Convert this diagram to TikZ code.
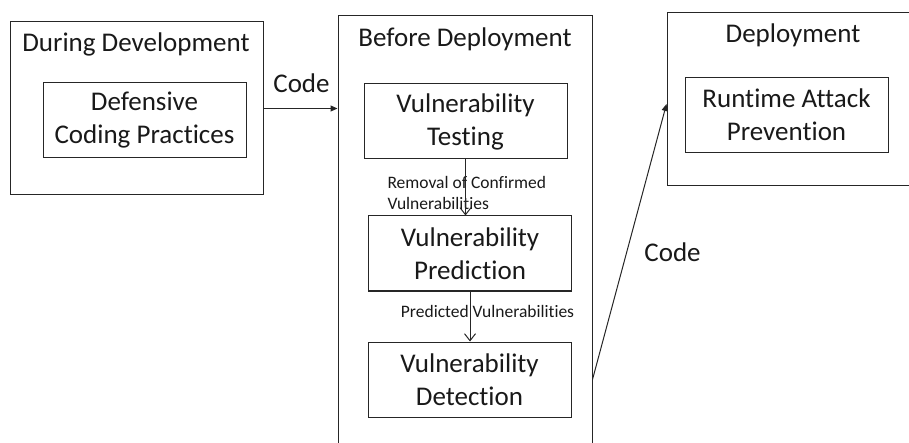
\documentclass[tikz,border=0pt]{standalone}
\usepackage{fontspec}
\setmainfont{Carlito}[Ligatures=NoCommon]
\usetikzlibrary{arrows.meta}
\begin{document}
\begin{tikzpicture}[x=1pt,y=-1pt,
  frame/.style={draw=black!85, line width=1pt, inner sep=0pt},
  big/.style={font=\fontsize{27}{33}\selectfont, text=black!90},
  small/.style={font=\fontsize{17.5}{21.3}\selectfont, text=black!90},
  stage/.style={frame, big, align=center, minimum width=203pt, minimum height=75pt},
  conn/.style={draw=black!85, line width=1pt},
  solid tip/.style={-{Triangle[length=7pt,width=6pt]}},
  open tip/.style={-{Straight Barb[length=7pt,width=11pt]}}]
\clip (0,0) rectangle (909,443);

% During development
\node[frame, minimum width=253pt, minimum height=173pt] (dev) at (136.5,108.5) {};
\node[big, anchor=base] (devt) at (136,52) {During Development};
\node[stage] (def) at (144.5,120.5) {Defensive\\Coding Practices};

% Before deployment
\node[frame, minimum width=254pt, minimum height=454pt] (mid) at (465,243) {};
\node[big, anchor=base] (midt) at (465,47) {Before Deployment};
\node[stage] (test) at (465.5,121.5) {Vulnerability\\Testing};
\node[stage] (pred) at (470,253.5) {Vulnerability\\Prediction};
\node[stage] (det) at (469.5,379.5) {Vulnerability\\Detection};

% Deployment
\node[frame, minimum width=250pt, minimum height=173pt] (dep) at (792,99.5) {};
\node[big, anchor=base] (dept) at (793,43) {Deployment};
\node[stage] (rt) at (786.5,115) {Runtime Attack\\Prevention};

% Labels
\node[big, anchor=base] (c1) at (301.5,93) {Code};
\node[big, anchor=base] (c2) at (672.5,262) {Code};
\node[small, anchor=base west, align=left] (rem) at (384,210) {Removal of Confirmed\\Vulnerabilities};
\node[small, anchor=base] (pv) at (487.5,317) {Predicted Vulnerabilities};

% Connectors
\draw[conn, solid tip] (dev.east) -- (dev.east -| mid.west);
\draw[conn, open tip] (test.south) -- (test.south |- pred.north);
\draw[conn, open tip] (pred.south) -- (pred.south |- det.north);
\draw[conn, solid tip] (mid.east |- det.center) -- ([yshift=-4.5pt]dep.west);
\end{tikzpicture}
\end{document}
